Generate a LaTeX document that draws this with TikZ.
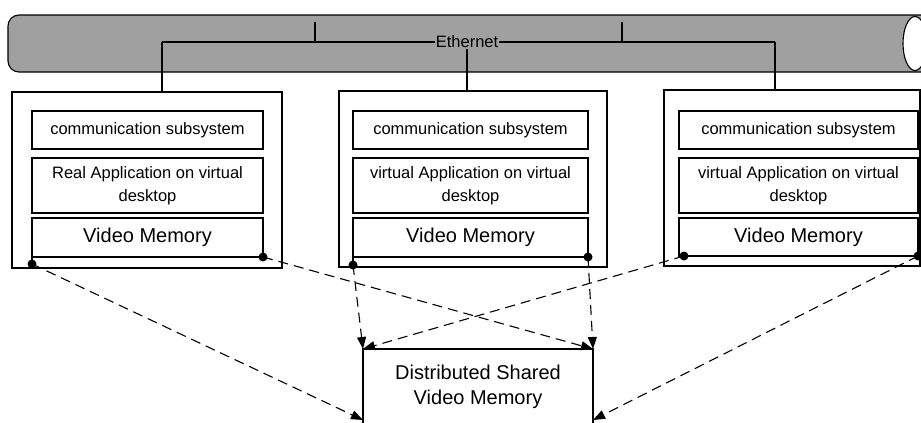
\documentclass[tikz,border=0pt]{standalone}
\usepackage{fontspec}
\setmainfont{Liberation Sans}
\usetikzlibrary{arrows.meta,calc}
\definecolor{ethgray}{RGB}{160,160,160}
\begin{document}
\begin{tikzpicture}[x=1pt,y=-1pt,
  box/.style={draw, line width=1.1pt, anchor=north west, inner sep=0pt, outer sep=0pt},
  small/.style={font=\fontsize{16.5}{23}\selectfont, align=center},
  big/.style={font=\fontsize{20}{25}\selectfont, align=center},
  conn/.style={line width=1.1pt, dash pattern=on 10pt off 6pt, -{Triangle[length=12pt,width=9pt]}},
  wire/.style={line width=1.1pt},
  dotmark/.style={fill=black}]
\useasboundingbox (0,0) rectangle (921,423);
\clip (0,0) rectangle (921,423);

% Ethernet cylinder
\draw[wire, fill=ethgray, rounded corners=11pt] (935,15) -- (8,15) -- (8,72) -- (935,72);
\draw[wire, fill=white] (915,43.5) ellipse [x radius=12, y radius=27];

% hosts
\node[box, minimum width=270, minimum height=176] (n1) at (12,92) {};
\node[box, small, minimum width=231, minimum height=38] (c1) at (32,111) {communication subsystem};
\node[box, small, minimum width=231, minimum height=55] (a1) at (32,158) {Real Application on virtual\\desktop};
\node[box, big, minimum width=231, minimum height=39] (v1) at (32,218) {Video Memory};

\node[box, minimum width=268, minimum height=176] (n2) at (339,91) {};
\node[box, small, minimum width=235, minimum height=38] (c2) at (353,111) {communication subsystem};
\node[box, small, minimum width=235, minimum height=55] (a2) at (353,158) {virtual Application on virtual\\desktop};
\node[box, big, minimum width=235, minimum height=39] (v2) at (353,218) {Video Memory};

\node[box, minimum width=256, minimum height=176] (n3) at (664,90) {};
\node[box, small, minimum width=239, minimum height=38] (c3) at (679,111) {communication subsystem};
\node[box, small, minimum width=239, minimum height=55] (a3) at (679,158) {virtual Application on virtual\\desktop};
\node[box, big, minimum width=239, minimum height=38] (v3) at (679,218) {Video Memory};

% shared memory
\node[box, big, minimum width=230, minimum height=76] (d) at (363,349) {Distributed Shared\\Video Memory};

% Ethernet wiring
\node[small, inner sep=1pt] (eth) at (467,42) {Ethernet};
\coordinate (j1) at (162,42);
\coordinate (j3) at (775,42);
\coordinate (t1) at (315,22);
\coordinate (t2) at (622,22);
\draw[wire] (j1) -- (eth.west);
\draw[wire] (eth.east) -- (j3);
\draw[wire] (t1) -- (t1 |- j1);
\draw[wire] (t2) -- (t2 |- j1);
\draw[wire] (j1) -- (j1 |- n1.north);
\draw[wire] (eth.south) -- (eth.south |- n2.north);
\draw[wire] (j3) -- (j3 |- n3.north);

% connection points
\coordinate (p1l) at (32,264);
\coordinate (p1r) at (v1.south east);
\coordinate (p2l) at (353,265);
\coordinate (p2r) at (v2.south east);
\coordinate (p3l) at (684,256);
\coordinate (p3r) at (v3.south east);
\coordinate (dbl) at ($(d.north west)+(0,71)$);
\coordinate (dbr) at ($(d.north east)+(0,71)$);

\draw[wire] (v1.south west) -- (p1l);
\draw[wire] (v2.south west) -- (p2l);

\draw[conn] (p1l) -- (dbl);
\draw[conn] (p1r) -- (d.north east);
\draw[conn] (p2l) -- (d.north west);
\draw[conn] (p2r) -- (d.north east);
\draw[conn] (p3l) -- (d.north west);
\draw[conn] (p3r) -- (dbr);

\foreach \p in {p1l,p1r,p2l,p2r,p3l,p3r}
  \fill[dotmark] (\p) circle [radius=4.5];
\end{tikzpicture}
\end{document}
